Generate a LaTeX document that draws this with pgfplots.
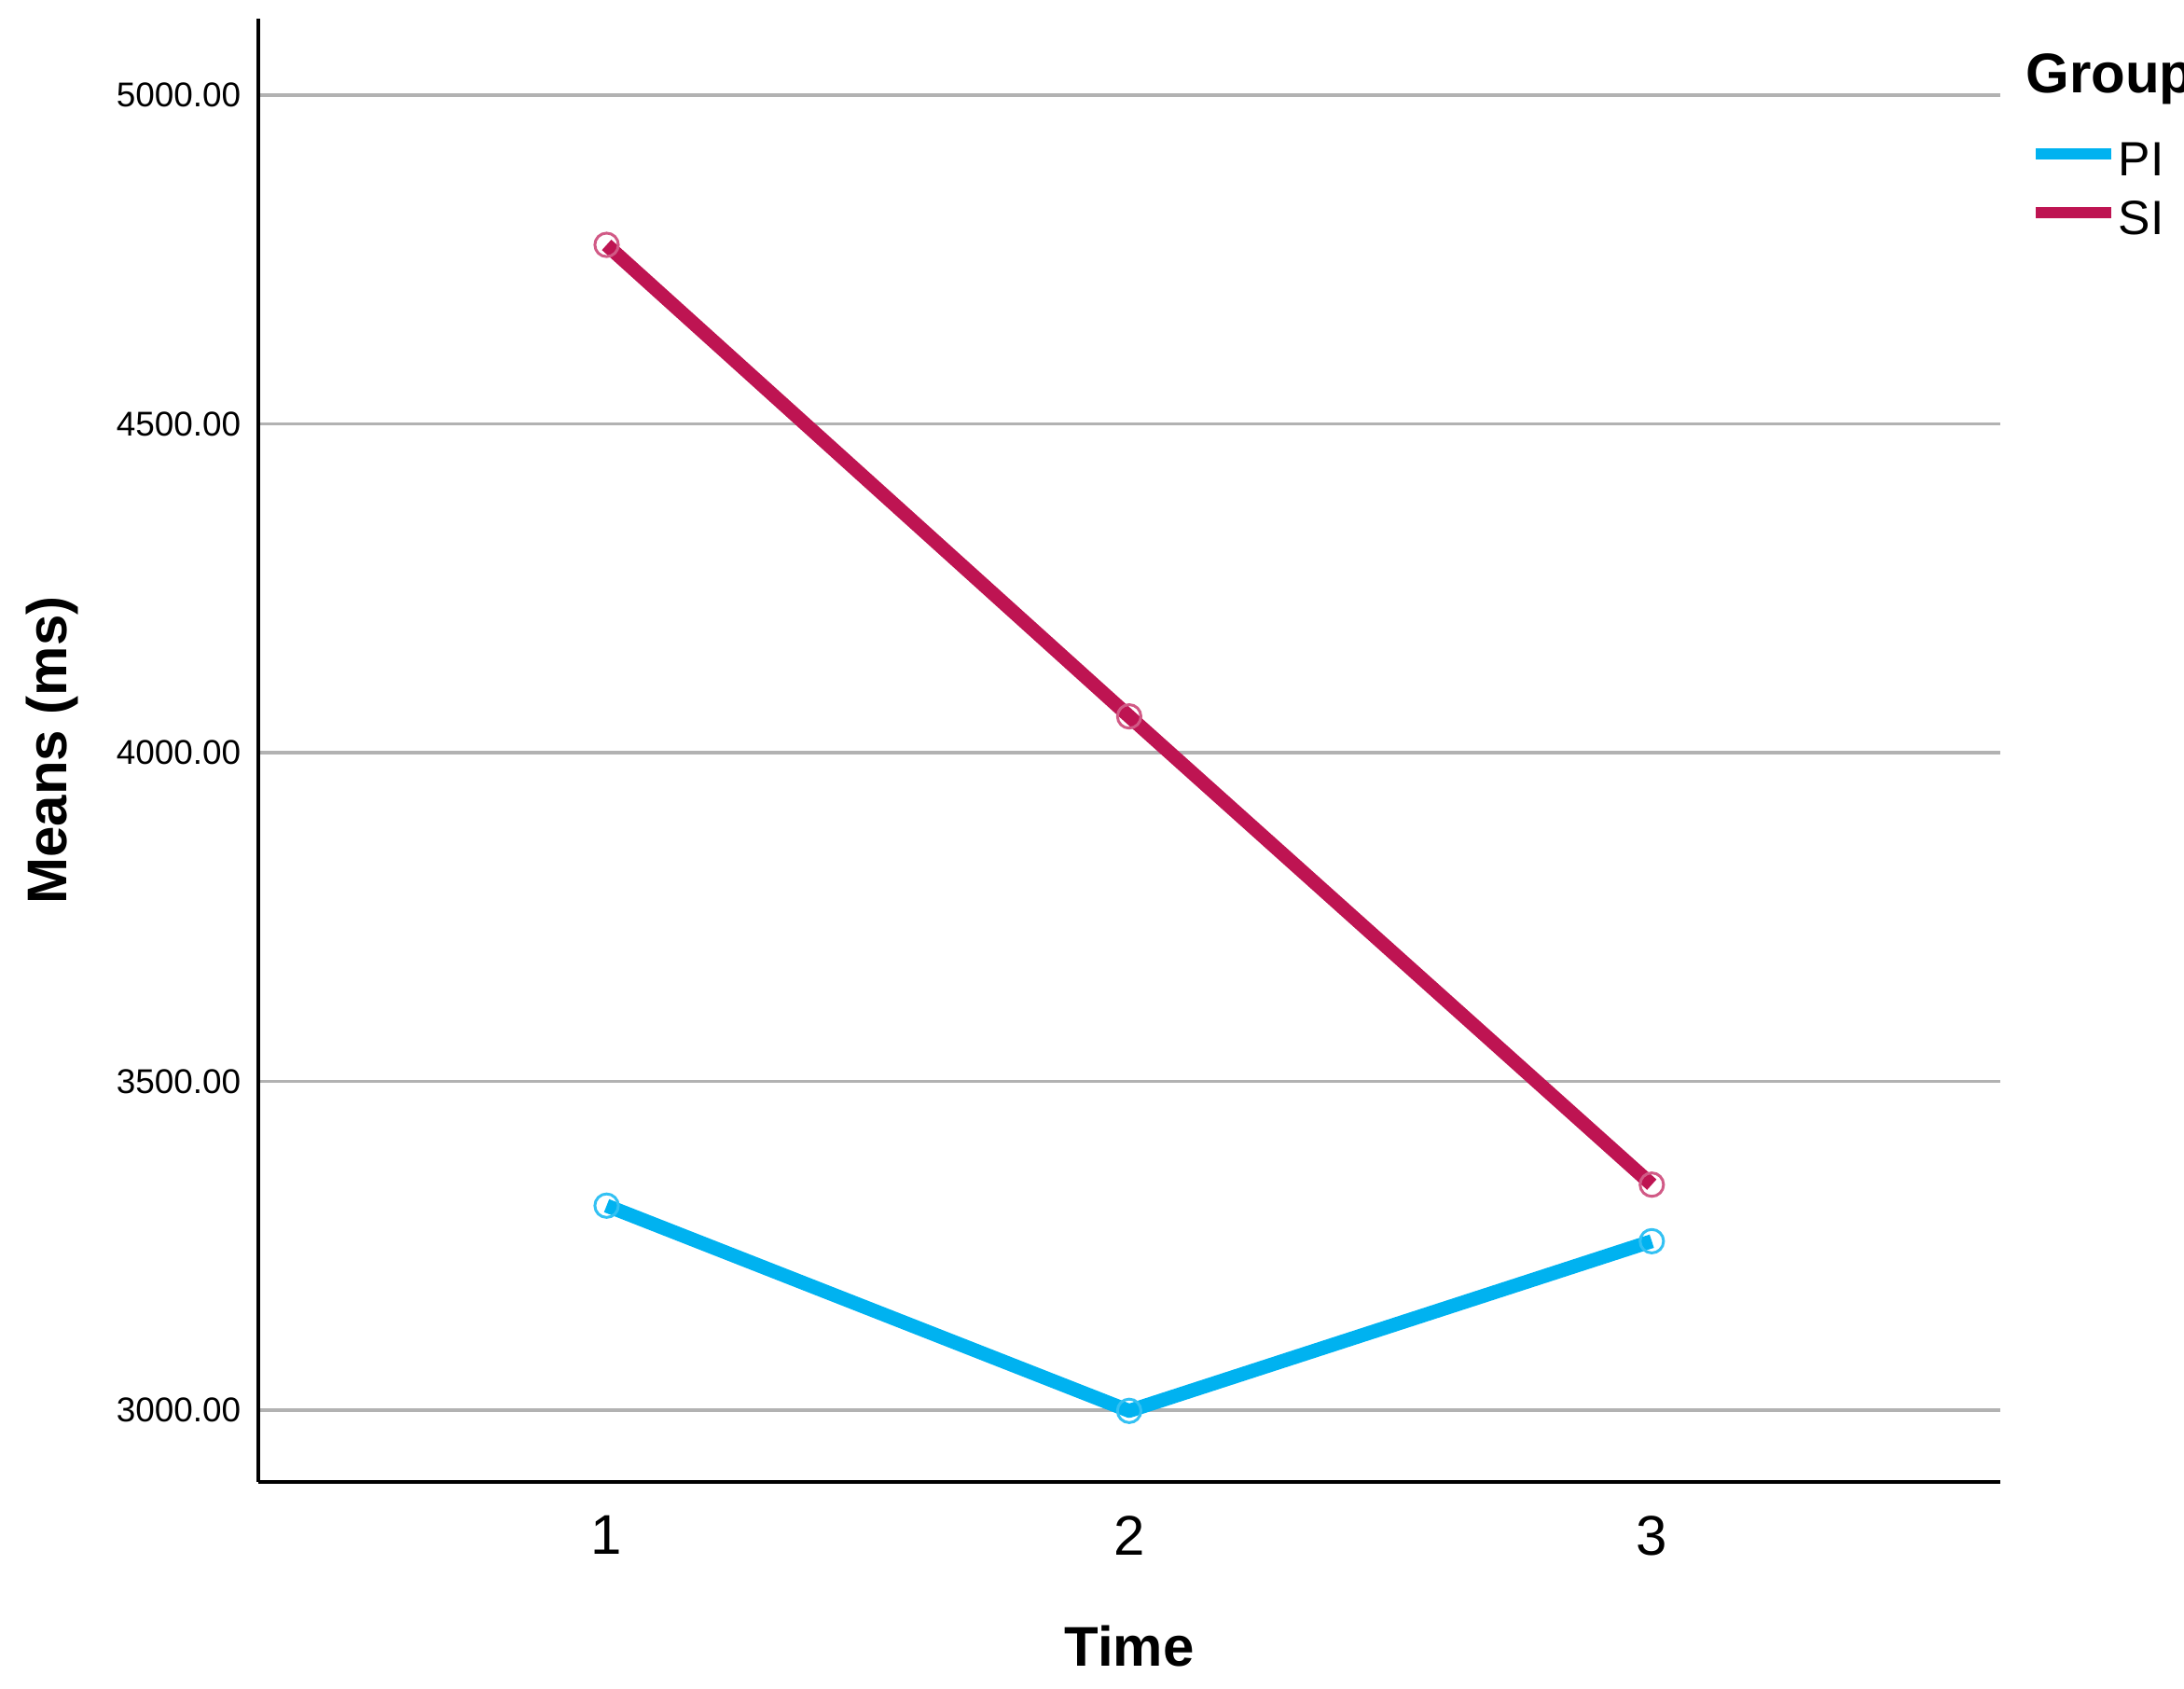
\documentclass[border=0pt]{standalone}
\usepackage{fontspec}
\setmainfont{Liberation Sans}
\usepackage{pgfplots}
\pgfplotsset{compat=1.18}
\definecolor{piblue}{RGB}{0,178,240}
\definecolor{sired}{RGB}{190,20,82}
\definecolor{gridgray}{RGB}{178,178,178}
\begin{document}
\begin{tikzpicture}
\begin{axis}[
 axis x line=bottom, axis y line=left,
 scale only axis, width=622.7pt, height=523pt,
 xmin=0.3333, xmax=3.6667, ymin=2891, ymax=5116,
 x axis line style={line width=1.3pt,-},
 y axis line style={line width=1.1pt,-},
 xtick={1,2,3}, ytick={3000,3500,4000,4500,5000},
 major tick length=0pt,
 ymajorgrids, grid style={line width=1.2pt, gridgray},
 /pgf/number format/assume math mode=true,
 yticklabel style={/pgf/number format/fixed, /pgf/number format/fixed zerofill, /pgf/number format/precision=2, /pgf/number format/1000 sep={}},
 xticklabel style={font=\fontsize{20}{24}\selectfont, inner sep=0pt, yshift=-12pt, anchor=north},
 yticklabel style={font=\fontsize{12.3}{15}\selectfont, inner sep=0pt, xshift=-6pt, anchor=east},
 xlabel={Time}, ylabel={Means (ms)},
 xlabel style={at={(axis description cs:0.5,-0.1262)}, anchor=base, inner sep=0pt, font=\bfseries\fontsize{20}{24}\selectfont},
 ylabel style={at={(axis description cs:-0.1097,0.5)}, anchor=base, inner sep=0pt, font=\bfseries\fontsize{20}{24}\selectfont},
 legend style={draw=none, fill=none, inner sep=0pt, outer sep=0pt, at={(axis description cs:1.0174,0.9159)}, anchor=north west, font=\fontsize{17.2}{20}\selectfont, nodes={inner sep=0pt, text height=12.3pt, text depth=0pt}, row sep=8.7pt, column sep=0.4pt},
 legend cell align=left,
 legend image code/.code={\draw[#1, mark=none, line width=4pt] (0pt,1.7pt) -- (27pt,1.7pt);},
 ]
\addplot[piblue, line width=5pt, line join=round, mark=o, mark size=4.2pt, mark options={line width=1pt, draw=piblue!80!white, fill=none}] coordinates {(1,3311) (2,2999) (3,3257)};
\addlegendentry{PI}
\addplot[sired, line width=5pt, line join=round, mark=o, mark size=4.2pt, mark options={line width=1pt, draw=sired!70!white, fill=none}] coordinates {(1,4772) (2,4055) (3,3343)};
\addlegendentry{SI}
\end{axis}
\node[anchor=base west, inner sep=0pt, font=\bfseries\fontsize{20}{24}\selectfont] at ([xshift=9pt, yshift=-26.67pt]current axis.north east) {Group};
\path (current axis.south west) +(-92.3pt,-74pt) coordinate (bl);
\path (current axis.north east) +(65.7pt,6.67pt) coordinate (tr);
\pgfresetboundingbox
\path (bl) rectangle (tr);
\end{tikzpicture}
\end{document}
